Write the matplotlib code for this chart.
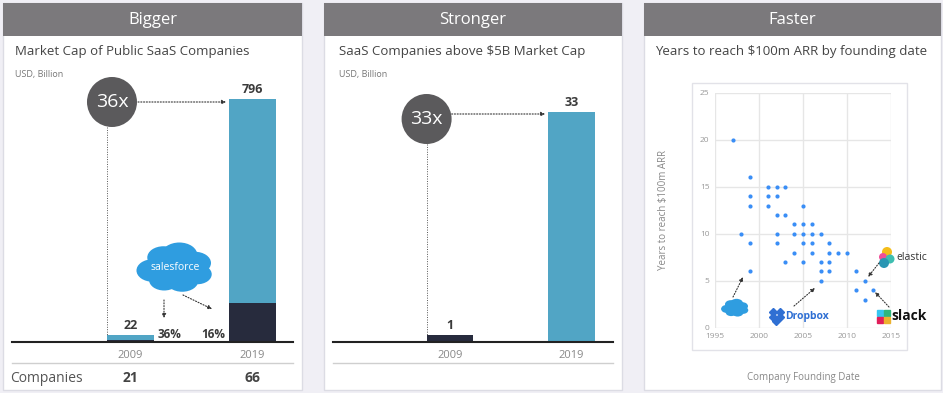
import matplotlib.pyplot as plt
from matplotlib.patches import Rectangle, Circle, Ellipse

# ---------------------------------------------------------------
# data
# ---------------------------------------------------------------
years = ['2009', '2019']
market_cap = [22, 796]            # USD bn, public SaaS
salesforce_share = [0.36, 0.16]   # share of market cap
companies = [21, 66]
above_5b = [1, 33]
growth = ['36x', '33x']

found_year = [1997, 1998, 1999, 1999, 1999, 1999, 1999,
              2001, 2001, 2001, 2002, 2002, 2002, 2002, 2002, 2003, 2003, 2003,
              2004, 2004, 2004, 2005, 2005, 2005, 2005, 2005,
              2006, 2006, 2006, 2006, 2007, 2007, 2007, 2007,
              2008, 2008, 2008, 2008, 2009, 2010, 2011, 2011, 2012, 2012, 2013]
years_to_100m = [20, 10, 16, 14, 13, 9, 6,
                 15, 14, 13, 15, 14, 12, 10, 9, 15, 12, 7,
                 11, 10, 8, 13, 11, 10, 9, 7,
                 11, 10, 9, 8, 10, 7, 6, 5,
                 9, 8, 7, 6, 8, 8, 6, 4, 5, 3, 4]

# ---------------------------------------------------------------
# figure / helpers (pixel layout, origin top-left)
# ---------------------------------------------------------------
W, H = 943, 393
FONT = 'Open Sans'
plt.rcParams['font.family'] = [FONT, 'DejaVu Sans']

DARK = '#272b3d'
BLUE = '#51a5c5'
HEAD = '#7b797c'
CIRC = '#5b5a5c'
TXT = '#555555'
SF_BLUE = '#2f9de0'

fig = plt.figure(figsize=(W / 100, H / 100), dpi=100)
fig.patch.set_facecolor('#f0eff5')


def box(l, t, r, b):
    return [l / W, 1 - b / H, (r - l) / W, (b - t) / H]


def to_px(ax, x, y):
    X, Y = ax.transData.transform((x, y))
    return X, H - Y


bg = fig.add_axes([0, 0, 1, 1], zorder=0)
bg.set_xlim(0, W)
bg.set_ylim(H, 0)
bg.axis('off')

panels = [(3, 302, 'Bigger', 'Market Cap of Public SaaS Companies', 15),
          (324, 622, 'Stronger', 'SaaS Companies above $5B Market Cap', 339),
          (644, 941, 'Faster', 'Years to reach $100m ARR by founding date', 655)]
for l, r, head, title, tx in panels:
    bg.add_patch(Rectangle((l, 3), r - l, 387, fc='white', ec='#dcdce4', lw=1))
    bg.add_patch(Rectangle((l, 3), r - l, 33, fc=HEAD, ec='none'))
    bg.text((l + r) / 2, 20, head, color='white', fontsize=12, ha='center', va='center')
    bg.text(tx, 52, title, color='#444444', fontsize=9.5, ha='left', va='center')
bg.text(15, 74, 'USD, Billion', color='#777777', fontsize=6.5, va='center')
bg.text(339, 74, 'USD, Billion', color='#777777', fontsize=6.5, va='center')

fr = fig.add_axes([0, 0, 1, 1], zorder=5)
fr.set_xlim(0, W)
fr.set_ylim(H, 0)
fr.axis('off')
fr.patch.set_alpha(0)


def arrow(p0, p1, lw=0.8):
    fr.annotate('', xy=p1, xytext=p0,
                arrowprops=dict(arrowstyle='-|>', color='#333333', lw=lw,
                                ls=(0, (1, 1.5)), mutation_scale=6,
                                shrinkA=0, shrinkB=0))


def cloud(cx, cy, sx, sy):
    # simple cloud shape from overlapping ellipses
    parts = [(-0.62, 0.1, 0.45), (-0.32, -0.42, 0.45), (0.12, -0.52, 0.5),
             (0.55, -0.2, 0.45), (0.62, 0.25, 0.4), (0.2, 0.5, 0.45),
             (-0.3, 0.48, 0.42), (0, 0, 0.75)]
    for dx, dy, r in parts:
        fr.add_patch(Ellipse((cx + dx * sx, cy + dy * sy), 2 * r * sx, 2 * r * sy,
                             fc=SF_BLUE, ec='none'))


def bar_panel(rect, vals, ylim_top, xl, xr, bw):
    ax = fig.add_axes(box(*rect), zorder=2)
    ax.patch.set_alpha(0)
    ax.set_xlim(xl, xr)
    ax.set_ylim(0, ylim_top)
    for s in ['top', 'right', 'left']:
        ax.spines[s].set_visible(False)
    ax.spines['bottom'].set_linewidth(1.5)
    ax.spines['bottom'].set_color('#222222')
    ax.set_yticks([])
    ax.set_xticks(range(len(years)), years)
    ax.tick_params(axis='x', length=0, pad=6, labelsize=8, labelcolor='#888888')
    for i, v in enumerate(vals):
        ax.annotate(str(v), (i, v), xytext=(0, 7), textcoords='offset points',
                    ha='center', va='center', fontsize=9, fontweight='bold', color='#3a3a3a')
    return ax


# ---------------------------------------------------------------
# panel 1: market cap, salesforce share stacked
# ---------------------------------------------------------------
bw = 0.385
ax1 = bar_panel((12, 60, 293, 342), market_cap, 796 * 282 / 243, -0.971, 1.332, bw)
sf = [m * s for m, s in zip(market_cap, salesforce_share)]
rest = [m - s for m, s in zip(market_cap, sf)]
ax1.bar(range(2), sf, width=bw, color=DARK)
ax1.bar(range(2), rest, width=bw, bottom=sf, color=BLUE)
for i, c in enumerate(companies):
    ax1.annotate(str(c), (i, 0), xytext=(0, -26), textcoords='offset points',
                 ha='center', va='center', fontsize=10, fontweight='bold', color='#444444')
bg.text(10, 378, 'Companies', fontsize=10, color=TXT, va='center')
bg.plot([12, 293], [363, 363], color='#cfcfcf', lw=1)

# percentages next to the salesforce segments
x0, y0 = to_px(ax1, 0 + bw / 2, 0)
fr.text(x0 + 4, 334, f'{salesforce_share[0]:.0%}', fontsize=8.5, fontweight='bold',
        color='#3a3a3a', va='center')
x1, _ = to_px(ax1, 1 - bw / 2, 0)
fr.text(x1 - 4, 334, f'{salesforce_share[1]:.0%}', fontsize=8.5, fontweight='bold',
        color='#3a3a3a', va='center', ha='right')

# growth circle + connectors
bl, bt = to_px(ax1, 0 - bw / 2, market_cap[0])
fr.add_patch(Circle((bl + 5, 102), 25, fc=CIRC, ec='none'))
fr.text(bl + 5, 102, growth[0], color='white', fontsize=14, ha='center', va='center')
fr.plot([bl, bl], [127, bt], color='#555555', lw=0.7, ls=(0, (1, 1.5)))
l2, _ = to_px(ax1, 1 - bw / 2, 0)
arrow((bl + 31, 102), (l2 - 3, 102))

# salesforce cloud
cloud(175, 268, 36, 25)
fr.text(175, 267, 'salesforce', color='white', fontsize=7.5, ha='center', va='center')
arrow((164, 300), (164, 318))
arrow((183, 295), (212, 309))

# ---------------------------------------------------------------
# panel 2: companies above $5B
# ---------------------------------------------------------------
ax2 = bar_panel((333, 60, 613, 342), above_5b, 33 * 282 / 230, -0.963, 1.342, bw)
ax2.bar(range(2), above_5b, width=bw, color=[DARK, BLUE])
bg.plot([333, 613], [363, 363], color='#cfcfcf', lw=1)
bl, bt = to_px(ax2, 0 - bw / 2, above_5b[0])
fr.add_patch(Circle((bl, 119), 25, fc=CIRC, ec='none'))
fr.text(bl, 119, growth[1], color='white', fontsize=14, ha='center', va='center')
fr.plot([bl, bl], [144, bt], color='#555555', lw=0.7, ls=(0, (1, 1.5)))
l2, _ = to_px(ax2, 1 - bw / 2, 0)
arrow((bl + 25, 114), (l2 - 3, 114))

# ---------------------------------------------------------------
# panel 3: scatter
# ---------------------------------------------------------------
bg.add_patch(Rectangle((692, 83), 215, 267, fc='white', ec='#e2e2e8', lw=1))
ax3 = fig.add_axes(box(715, 92.7, 891, 327.7), zorder=2)
ax3.patch.set_alpha(0)
ax3.scatter(found_year, years_to_100m, s=9, color='#3a8ef6', zorder=3, linewidths=0)
ax3.set_xlim(1995, 2015)
ax3.set_ylim(0, 25)
ax3.set_xticks(range(1995, 2016, 5))
ax3.set_yticks(range(0, 26, 5))
ax3.grid(True, color='#e6e6e6', lw=1)
for s in ax3.spines.values():
    s.set_visible(False)
ax3.tick_params(length=0, labelsize=6, labelcolor='#999999', pad=4)
ax3.set_ylabel('Years to reach $100m ARR', fontsize=7, color='#888888')
ax3.yaxis.set_label_coords(-0.26, 0.5)
ax3.set_xlabel('Company Founding Date', fontsize=7, color='#888888')
ax3.xaxis.set_label_coords(0.5, -0.19)

# logos (rough)
cloud(735, 308, 13, 9)
for dx, dy in [(-3.5, -3.5), (3.5, -3.5), (-3.5, 2), (3.5, 2), (0, 6)]:
    fr.plot(776 + dx, 315 + dy, marker='D', ms=4, color='#2f6fd3')
fr.text(785, 316, 'Dropbox', color='#2f6fd3', fontsize=7.5, fontweight='bold', va='center')
for cx, cy, r, c in [(887, 252, 5, '#f4bd19'), (883, 257, 4, '#ef5098'),
                     (890, 259, 4.5, '#3ebeb0'), (884, 263, 5, '#2a96b3')]:
    fr.add_patch(Circle((cx, cy), r, fc=c, ec='none'))
fr.text(896, 257, 'elastic', color='#333333', fontsize=7.5, va='center')
for dx, dy, c in [(-3.5, -3.5, '#36c5f0'), (3.5, -3.5, '#2eb67d'),
                  (-3.5, 3.5, '#e01e5a'), (3.5, 3.5, '#ecb22e')]:
    fr.plot(883 + dx, 316 + dy, marker='s', ms=4, color=c)
fr.text(891, 316, 'slack', color='#111111', fontsize=10, fontweight='bold', va='center')
arrow((733, 297), (743, 277))
arrow((794, 306), (815, 288))
arrow((879, 263), (868, 277))
arrow((889, 307), (875, 292))

fig.savefig('out.png', dpi=100, facecolor=fig.get_facecolor())
